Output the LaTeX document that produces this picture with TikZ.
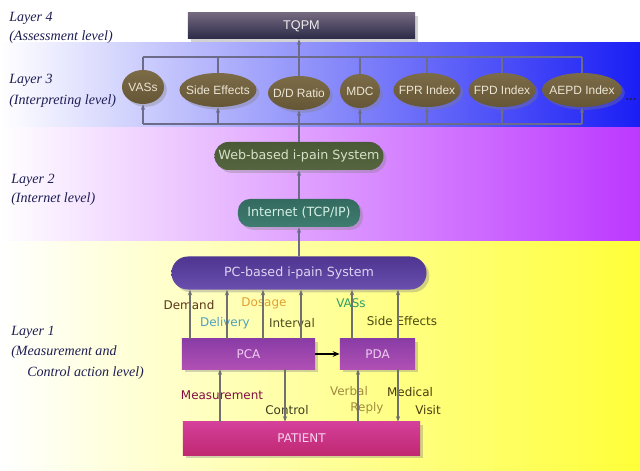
\documentclass[tikz,border=0pt]{standalone}
\usepackage{fontspec}
\setmainfont{Liberation Serif}
\newfontfamily\arialfont{Liberation Sans}
\newfontfamily\comicfont{DejaVu Sans}
\usetikzlibrary{shapes.geometric,shadows,arrows.meta}

\definecolor{bandblue}{HTML}{1A1EF5}
\definecolor{bandpurple}{HTML}{BC38FF}
\definecolor{bandyellow}{HTML}{FFFF38}
\definecolor{layerink}{HTML}{1E1E55}
\definecolor{wiregray}{HTML}{6C6C8A}
\definecolor{feedgray}{HTML}{707070}
\definecolor{ovaltop}{HTML}{7C6B47}
\definecolor{ovalbot}{HTML}{655636}
\definecolor{ovalink}{HTML}{ECE6D6}
\definecolor{tqpmtop}{HTML}{74687E}
\definecolor{tqpmbot}{HTML}{2A2A48}
\definecolor{webtop}{HTML}{4A5A36}
\definecolor{webbot}{HTML}{55653F}
\definecolor{webink}{HTML}{D6E2C8}
\definecolor{inettop}{HTML}{346A60}
\definecolor{inetbot}{HTML}{3F7C70}
\definecolor{inetink}{HTML}{D4F0E4}
\definecolor{pctop}{HTML}{4E3590}
\definecolor{pcbot}{HTML}{6A4FAE}
\definecolor{pcink}{HTML}{DCD4F2}
\definecolor{devtop}{HTML}{8A3CA6}
\definecolor{devbot}{HTML}{B050B4}
\definecolor{devink}{HTML}{F2CCF2}
\definecolor{pattop}{HTML}{D4409A}
\definecolor{patbot}{HTML}{C02870}
\definecolor{patink}{HTML}{FAD4F0}
\definecolor{cdemand}{HTML}{5A3418}
\definecolor{cdosage}{HTML}{E0A030}
\definecolor{cdelivery}{HTML}{4FA0C0}
\definecolor{cinterval}{HTML}{4A4A20}
\definecolor{cvass}{HTML}{2FA060}
\definecolor{cside}{HTML}{4A4A10}
\definecolor{cmeasure}{HTML}{801040}
\definecolor{ccontrol}{HTML}{3A3A20}
\definecolor{cverbal}{HTML}{A08A40}
\definecolor{cmedical}{HTML}{4A3A10}

\tikzset{
  layertext/.style={font=\itshape\fontsize{10}{12}\selectfont, text=layerink,
    anchor=west, inner sep=0pt},
  shadowed/.style={drop shadow={opacity=0.35,shadow xshift=2pt,shadow yshift=-2pt}},
  oval/.style={ellipse, shadowed, top color=ovaltop, bottom color=ovalbot,
    minimum height=0.85cm, inner sep=0pt},
  ovaltext/.style={font=\arialfont\fontsize{8.5}{10}\selectfont, text=ovalink},
  sysbox/.style={shadowed, rounded corners=0.35cm, minimum height=0.7cm,
    font=\comicfont\fontsize{9}{10}\selectfont, inner sep=0pt},
  devbox/.style={shadowed, top color=devtop, bottom color=devbot, text=devink,
    minimum height=0.75cm, font=\comicfont\fontsize{8.5}{10}\selectfont, inner sep=0pt},
  tag/.style={font=\comicfont\fontsize{8.5}{10}\selectfont, inner sep=0pt},
  wire/.style={draw=wiregray, line width=0.8pt},
  wireup/.style={wire, -{Stealth[length=4pt,width=3pt]}},
  feed/.style={draw=feedgray, line width=0.8pt, -{Stealth[length=4pt,width=3pt]}},
  push/.style={draw=black, line width=1.2pt, -{Stealth[length=5pt,width=4pt]}},
}

\begin{document}
\begin{tikzpicture}[x=0.025cm,y=-0.025cm]
\useasboundingbox (0,0) rectangle (640,471);

%% background bands
\fill[white] (0,0) rectangle (640,43);
\shade[left color=white, right color=bandblue] (0,43) rectangle (640,128);
\shade[left color=white, right color=bandpurple] (0,128) rectangle (640,242);
\shade[left color=white, right color=bandyellow] (0,242) rectangle (640,471);

%% layer captions
\node[layertext] (l4a) at (9,18) {Layer 4};
\node[layertext] (l4b) at (9,37) {(Assessment level)};
\node[layertext] (l3a) at (9,80) {Layer 3};
\node[layertext] (l3b) at (9,101) {(Interpreting level)};
\node[layertext] (l2a) at (11,180) {Layer 2};
\node[layertext] (l2b) at (11,199) {(Internet level)};
\node[layertext] (l1a) at (11,332) {Layer 1};
\node[layertext] (l1b) at (11,352) {(Measurement and};
\node[layertext] (l1c) at (27,373) {Control action level)};

%% layer 4
\node[shadowed, top color=tqpmtop, bottom color=tqpmbot,
  minimum width=5.675cm, minimum height=0.65cm, text=white!85!gray,
  font=\arialfont\fontsize{9}{10}\selectfont] (tqpm) at (301.5,26) {TQPM};

%% layer 3
\node[oval, minimum width=1.05cm, label={[ovaltext]center:VASs}] (vass) at (143,87) {};
\node[oval, minimum width=1.925cm, label={[ovaltext]center:Side Effects}] (side) at (218,90) {};
\node[oval, minimum width=1.55cm, label={[ovaltext]center:D/D Ratio}] (ddr) at (299,93) {};
\node[oval, minimum width=1.0cm, label={[ovaltext]center:MDC}] (mdc) at (360,91) {};
\node[oval, minimum width=1.675cm, label={[ovaltext]center:FPR Index}] (fpr) at (427,90) {};
\node[oval, minimum width=1.675cm, label={[ovaltext]center:FPD Index}] (fpd) at (502,90) {};
\node[oval, minimum width=2.0cm, label={[ovaltext]center:AEPD Index}] (aepd) at (582,90) {};
\node[font=\arialfont\bfseries\fontsize{9}{10}\selectfont, text=layerink, inner sep=0pt] (more) at (631,100) {...};

\coordinate (topl) at (143,57);
\coordinate (topr) at (582,57);
\coordinate (botl) at (143,124);
\coordinate (botr) at (582,124);
\draw[wire] (topl) -- (topr);
\draw[wire] (botl) -- (botr);

% ticks to the upper rail
\draw[wire] (vass.north) -- (vass.north |- topl);
\draw[wire] (side.north) -- (side.north |- topl);
\draw[wire] (ddr.north) -- (ddr.north |- topl);
\draw[wire] (mdc.north) -- (mdc.north |- topl);
\draw[wire] (fpr.north) -- (fpr.north |- topl);
\draw[wire] (fpd.north) -- (fpd.north |- topl);
\draw[wire] (aepd.north) -- (aepd.north |- topl);
\draw[wireup] (ddr.north |- topl) -- (tqpm.south -| ddr);

% arrows from the lower rail
\draw[wireup] (vass.south |- botl) -- (vass.south);
\draw[wireup] (side.south |- botl) -- (side.south);
\draw[wireup] (ddr.south |- botl) -- (ddr.south);
\draw[wireup] (mdc.south |- botl) -- (mdc.south);
\draw[wireup] (fpr.south |- botl) -- (fpr.south);
\draw[wireup] (fpd.south |- botl) -- (fpd.south);
\draw[wireup] (aepd.south |- botl) -- (aepd.south);

%% layer 2
\node[sysbox, top color=webtop, bottom color=webbot,
  minimum width=4.225cm, text=webink] (web) at (299,156) {Web-based i-pain System};
\node[sysbox, rounded corners=0.3cm, top color=inettop, bottom color=inetbot,
  minimum width=3.05cm, text=inetink] (inet) at (299,213) {Internet (TCP/IP)};
\draw[wire] (web.north) -- (web.north |- botl);
\draw[wireup] (inet.north) -- (web.south);

%% layer 1
\node[sysbox, rounded corners=0.41cm, top color=pctop, bottom color=pcbot,
  minimum width=6.375cm, minimum height=0.825cm, text=pcink] (pcsys) at (299,273) {PC-based i-pain System};
\draw[wireup] (pcsys.north) -- (inet.south);

\node[devbox, minimum width=3.325cm] (pca) at (248.5,354) {PCA};
\node[devbox, minimum width=1.875cm] (pda) at (377.5,354) {PDA};
\node[devbox, top color=pattop, bottom color=patbot, text=patink,
  minimum width=5.925cm, minimum height=0.825cm] (patient) at (301.5,438.5) {PATIENT};

% labels
\node[tag, text=cdemand] (tdemand) at (189,305) {Demand};
\node[tag, text=cdelivery] (tdelivery) at (225,323) {Delivery};
\node[tag, text=cdosage] (tdosage) at (264,303) {Dosage};
\node[tag, text=cinterval] (tinterval) at (292,323) {Interval};
\node[tag, text=cvass] (tvass) at (351,303) {VASs};
\node[tag, text=cside] (tside) at (402,321) {Side Effects};
\node[tag, text=cmeasure] (tmeasure) at (222,395) {Measurement};
\node[tag, text=ccontrol] (tcontrol) at (287,410) {Control};
\node[tag, text=cverbal] (tverbal) at (349,391) {Verbal};
\node[tag, text=cverbal] (treply) at (367,408) {Reply};
\node[tag, text=cmedical] (tmedical) at (410,392) {Medical};
\node[tag, text=cmedical] (tvisit) at (428,410) {Visit};

\coordinate (xdemand) at (190,0);
\coordinate (xdelivery) at (227,0);
\coordinate (xdosage) at (263,0);
\coordinate (xinterval) at (301,0);
\coordinate (xvass) at (352,0);
\coordinate (xside) at (398,0);
\coordinate (xmeasure) at (220,0);
\coordinate (xcontrol) at (285,0);
\coordinate (xverbal) at (358,0);

% up to the PC system
\draw[feed] (pca.north -| xdemand) -- (pcsys.south -| xdemand);
\draw[feed] (pca.north -| xdelivery) -- (pcsys.south -| xdelivery);
\draw[feed] (pca.north -| xdosage) -- (pcsys.south -| xdosage);
\draw[feed] (pca.north -| xinterval) -- (pcsys.south -| xinterval);
\draw[feed] (pda.north -| xvass) -- (pcsys.south -| xvass);
\draw[feed] (pda.north -| xside) -- (pcsys.south -| xside);

% between devices and patient
\draw[push] (pca.east) -- (pda.west);
\draw[feed] (patient.north -| xmeasure) -- (pca.south -| xmeasure);
\draw[feed] (pca.south -| xcontrol) -- (patient.north -| xcontrol);
\draw[feed] (patient.north -| xverbal) -- (pda.south -| xverbal);
\draw[feed] (pda.south -| xside) -- (patient.north -| xside);

\end{tikzpicture}
\end{document}
